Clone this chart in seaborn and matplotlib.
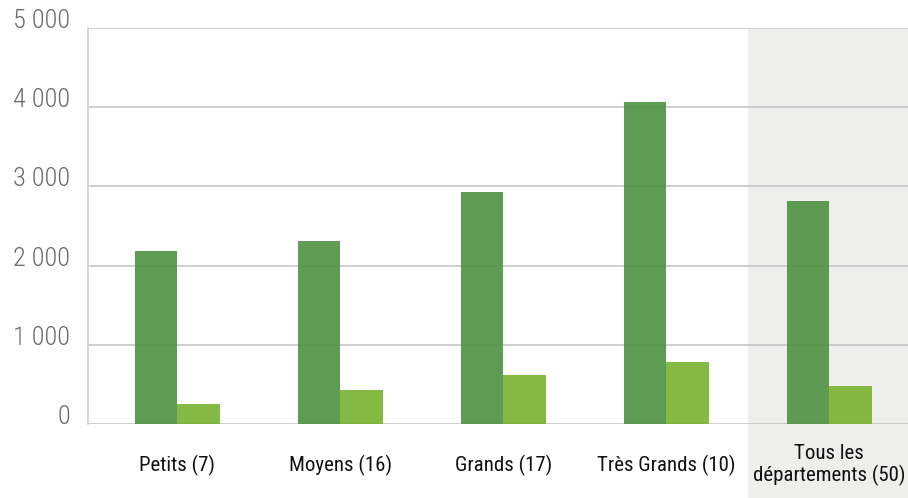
import matplotlib
matplotlib.use("Agg")
import matplotlib.pyplot as plt
import seaborn as sns
import pandas as pd

# --- data ---
categories = ["Petits (7)", "Moyens (16)", "Grands (17)", "Très Grands (10)", "Tous les\ndépartements (50)"]
serie_a = [2180, 2310, 2930, 4070, 2820]
serie_b = [250, 430, 620, 785, 480]
series_names = ["A", "B"]
y_ticks = [0, 1000, 2000, 3000, 4000, 5000]
y_tick_labels = ["0", "1 000", "2 000", "3 000", "4 000", "5 000"]

df = pd.DataFrame({
    "categorie": categories * 2,
    "serie": [series_names[0]] * len(categories) + [series_names[1]] * len(categories),
    "valeur": serie_a + serie_b,
})

sns.set_theme(style="white")
# condensed faces, closest to the original's narrow grotesque
plt.rcParams["font.family"] = ["Roboto Condensed", "Archivo Narrow", "Barlow Condensed", "DejaVu Sans"]

fig = plt.figure(figsize=(9.08, 4.98), dpi=100)
ax = fig.add_axes([88 / 908, 1 - 424 / 498, 1 - 88 / 908, 396 / 498])

x_left, x_right = -0.547, 4.483

# shaded band behind the last group, running down into the label area
ax.axvspan(3.5, x_right, ymin=-74 / 396, ymax=1, color="#eeeeec", zorder=0, clip_on=False, lw=0)

sns.barplot(data=df, x="categorie", y="valeur", hue="serie",
            palette=["#4e9140", "#77b22e"], width=0.52, alpha=0.9,
            saturation=1, linewidth=0, legend=False, ax=ax, zorder=2)

ax.set_xlim(x_left, x_right)
ax.set_ylim(0, 5000)
ax.set_yticks(y_ticks)
ax.set_yticklabels(y_tick_labels, color="#6b6b6b", fontsize=19, fontweight="light")
for lab in ax.get_yticklabels():
    lab.set_verticalalignment("baseline")
ax.tick_params(axis="y", length=0, pad=13)
ax.tick_params(axis="x", length=0, pad=29.5)
ax.set_xticks(range(len(categories)))
ax.set_xticklabels(categories, fontsize=15, color="#111111", linespacing=1.1)
for lab in ax.get_xticklabels():
    lab.set_verticalalignment("center")

ax.grid(axis="y", color="#c6c6c6", lw=1.2, zorder=1)
ax.set_axisbelow(True)
ax.set_xlabel("")
ax.set_ylabel("")
for side in ["top", "right", "bottom"]:
    ax.spines[side].set_visible(False)
ax.spines["left"].set_color("#d0d0d0")
ax.spines["left"].set_linewidth(1.2)

fig.savefig("out.png", dpi=100)
